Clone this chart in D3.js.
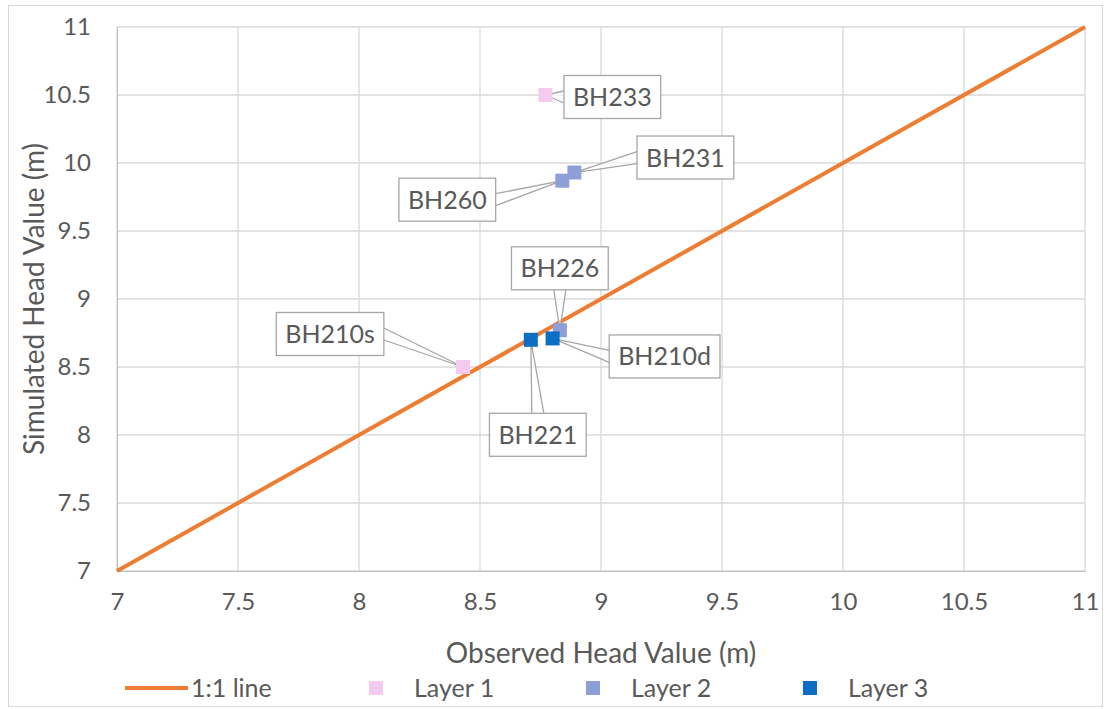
<!DOCTYPE html>
<html>
<head>
<meta charset="utf-8">
<script src="https://cdn.jsdelivr.net/npm/d3@7"></script>
<style>
  body { margin: 0; background: #fff; }
  svg text { font-family: Lato, "Open Sans", sans-serif; fill: #595959; }
</style>
</head>
<body>
<div id="chart"></div>
<script>
var W = 1108, H = 709

// axis ticks
var xTicks = [7, 7.5, 8, 8.5, 9, 9.5, 10, 10.5, 11]
var yTicks = [7, 7.5, 8, 8.5, 9, 9.5, 10, 10.5, 11]

// observation points (observed, simulated)
var names = ["BH233", "BH210s", "BH231", "BH260", "BH226", "BH210d", "BH221"]
var layers = [1, 1, 2, 2, 2, 3, 3]
var observed = [8.77, 8.43, 8.89, 8.84, 8.83, 8.80, 8.71]
var simulated = [10.5, 8.5, 9.93, 9.87, 8.77, 8.71, 8.70]

// 1:1 line
var oneToOne = [[7, 7], [11, 11]]

var layerNames = ["Layer 1", "Layer 2", "Layer 3"]
var layerColors = ["#f4cbef", "#8e9fd8", "#0a6fc2"]

// where each callout box sits, relative to its point
var labelOffset = {
  "BH233": [67, 2], "BH210s": [-133, -33], "BH231": [111, -15], "BH260": [-115, 19],
  "BH226": [0, -62], "BH210d": [112, 18], "BH221": [7, 95]
}

var margin = {top: 27, right: 23, bottom: 138, left: 117}

var svg = d3.select("#chart").append("svg")
    .attr("width", W)
    .attr("height", H)

// outer chart border
svg.append("rect")
    .attr("x", 8.5).attr("y", 5.5)
    .attr("width", W - 14).attr("height", H - 8)
    .attr("fill", "#fff").attr("stroke", "#d9d9d9")

var x = d3.scaleLinear().domain([7, 11]).range([margin.left, W - margin.right])
var y = d3.scaleLinear().domain([7, 11]).range([H - margin.bottom, margin.top])

// grid
var grid = svg.append("g").attr("stroke", "#d9d9d9").attr("stroke-width", 1.3)
grid.selectAll(".vg").data(xTicks).enter().append("line")
    .attr("x1", function(d) { return x(d) }).attr("x2", function(d) { return x(d) })
    .attr("y1", y(7)).attr("y2", y(11))
grid.selectAll(".hg").data(yTicks).enter().append("line")
    .attr("y1", function(d) { return y(d) }).attr("y2", function(d) { return y(d) })
    .attr("x1", x(7)).attr("x2", x(11))

// axes (labels only, Excel style)
var xAxis = d3.axisBottom(x).tickValues(xTicks).tickSize(0).tickPadding(22).tickFormat(d3.format("~g"))
var yAxis = d3.axisLeft(y).tickValues(yTicks).tickSize(0).tickPadding(26).tickFormat(d3.format("~g"))

var gx = svg.append("g").attr("transform", "translate(0," + y(7) + ")").call(xAxis)
var gy = svg.append("g").attr("transform", "translate(" + x(7) + ",0)").call(yAxis)
gx.select(".domain").attr("stroke", "#bfbfbf")
gy.select(".domain").attr("stroke", "#bfbfbf")
svg.selectAll(".tick text").attr("font-size", "24px").attr("fill", "#595959")
    .attr("font-family", "Lato, sans-serif")

// axis titles
svg.append("text")
    .attr("x", (x(7) + x(11)) / 2).attr("y", 663)
    .attr("text-anchor", "middle").attr("font-size", "28px")
    .text("Observed Head Value (m)")

svg.append("text")
    .attr("transform", "translate(44," + ((y(7) + y(11)) / 2) + ") rotate(-90)")
    .attr("text-anchor", "middle").attr("font-size", "28px")
    .text("Simulated Head Value (m)")

// 1:1 line
svg.append("path")
    .datum(oneToOne)
    .attr("fill", "none").attr("stroke", "#ed7d31").attr("stroke-width", 4)
    .attr("d", d3.line().x(function(d) { return x(d[0]) }).y(function(d) { return y(d[1]) }))

var pts = names.map(function(n, i) {
  return {name: n, layer: layers[i], ox: observed[i], sim: simulated[i]}
})

// callout pointers (wedges from the box side to the point)
var boxH = 43
var pointerG = svg.append("g")
var markerG = svg.append("g")
var boxG = svg.append("g")

pts.forEach(function(d) {
  var px = x(d.ox), py = y(d.sim)
  var off = labelOffset[d.name]
  var cx = px + off[0], cy = py + off[1]

  var t = boxG.append("text")
      .attr("x", cx).attr("y", cy + 9)
      .attr("text-anchor", "middle").attr("font-size", "25px")
      .text(d.name)
  var boxW = t.node().getComputedTextLength() + 18
  boxG.insert("rect", function() { return t.node() })
      .attr("x", cx - boxW / 2).attr("y", cy - boxH / 2)
      .attr("width", boxW).attr("height", boxH)
      .attr("fill", "#fff").attr("stroke", "#a6a6a6").attr("stroke-width", 1.3)

  var a, b
  if (Math.abs(off[0]) * boxH > Math.abs(off[1]) * boxW) {
    var ex = cx - Math.sign(off[0]) * boxW / 2
    a = [ex, cy - 6]; b = [ex, cy + 6]
  } else {
    var ey = cy - Math.sign(off[1]) * boxH / 2
    a = [cx - 6, ey]; b = [cx + 6, ey]
  }
  pointerG.append("path")
      .attr("d", "M" + a + "L" + [px, py] + "L" + b)
      .attr("fill", "#fff").attr("fill-opacity", 0.6)
      .attr("stroke", "#a6a6a6").attr("stroke-width", 1.3)
})

// markers
markerG.selectAll("rect").data(pts).enter().append("rect")
    .attr("x", function(d) { return x(d.ox) - 7 })
    .attr("y", function(d) { return y(d.sim) - 7 })
    .attr("width", 14).attr("height", 14)
    .attr("fill", function(d) { return layerColors[d.layer - 1] })

// legend
var leg = svg.append("g").attr("transform", "translate(0,688)")
leg.append("line").attr("x1", 125).attr("x2", 188).attr("y1", 0).attr("y2", 0)
    .attr("stroke", "#ed7d31").attr("stroke-width", 4)
leg.append("text").attr("x", 191).attr("y", 9).attr("font-size", "25px").text("1:1 line")
var legX = [376, 593, 810]
layerNames.forEach(function(n, i) {
  leg.append("rect").attr("x", legX[i] - 7).attr("y", -7).attr("width", 14).attr("height", 14)
      .attr("fill", layerColors[i])
  leg.append("text").attr("x", legX[i] + 38).attr("y", 9).attr("font-size", "25px").text(n)
})
</script>
</body>
</html>
